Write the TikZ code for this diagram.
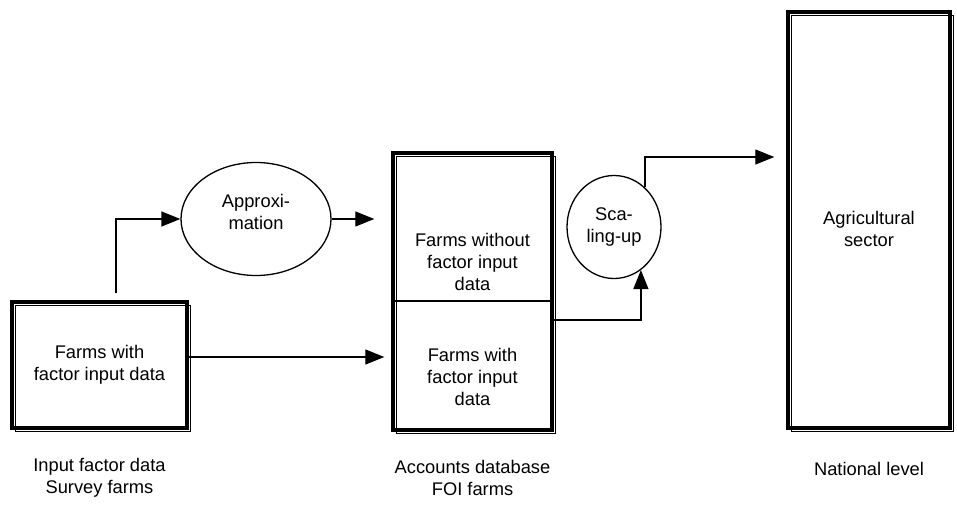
\documentclass[tikz,border=0pt]{standalone}
\usepackage{fontspec}
\setmainfont{Liberation Sans}
\usetikzlibrary{arrows.meta,shapes.geometric}
\tikzset{
  ramme/.style={draw,line width=3.4pt,inner sep=0pt,align=center,
    preaction={draw,line width=0.9pt,transform canvas={shift={(3.4pt,-3.4pt)}}}},
  boble/.style={ellipse,draw,line width=1.3pt,inner sep=0pt,align=center},
  pil/.style={line width=1.3pt,-{Triangle[length=19pt,width=15pt]}},
  tekst/.style={align=center}
}
\begin{document}
\begin{tikzpicture}[x=1pt,y=-1pt,font=\fontsize{18.3}{22}\selectfont]
  \useasboundingbox (0,0) rectangle (957,505); %hele billedet
  \node[ramme,minimum width=175pt,minimum height=126pt] (srv) at (99.5,365) {Farms with\\factor input data}; %survey boks
  \node[ramme,minimum width=159pt,minimum height=277pt] (foi) at (472.5,291.5) {}; %FOI boks
  \node[ramme,minimum width=162pt,minimum height=416pt] (nat) at (869,220) {}; %national boks
  \node[tekst] (agri) at (869,229) {Agricultural\\sector};
  \node[tekst] (foiup) at (472.5,262) {Farms without\\factor input\\data};
  \node[tekst] (foilow) at (472.5,377) {Farms with\\factor input\\data};
  \coordinate (skille) at (472.5,301);
  \draw[line width=1.5pt] (foi.west |- skille) -- (foi.east |- skille); %skillelinje
  \node[boble,minimum width=150pt,minimum height=113pt] (apx) at (256,219) {Approxi-\\mation\\[-8pt]};
  \node[boble,minimum width=94pt,minimum height=103pt] (scl) at (614,227) {Sca-\\ling-up};
  \coordinate (s3) at ([yshift=8pt]srv.east);
  \coordinate (f4) at ([yshift=-28.5pt]foi.east);
  \coordinate (n5) at ([yshift=63pt]nat.west);
  \draw[pil] ([xshift=16.5pt,yshift=7pt]srv.north) |- (apx.west); %op til approx
  \draw[pil,shorten >=17pt] (apx.east) -- (foi.west |- apx.east); %ind i FOI
  \draw[pil,shorten >=7pt] (s3) -- (s3 -| foi.west); %survey til FOI
  \draw[pil] (f4) -| (scl.-58); %FOI til scaling
  \draw[pil,shorten >=12pt] (scl.52) |- (n5); %scaling til national
  \node[tekst] (srvlbl) at (99.5,478) {Input factor data\\Survey farms};
  \node[tekst] (foilbl) at (472.5,478) {Accounts database\\FOI farms};
  \node[tekst] (natlbl) at (869,469) {National level};
\end{tikzpicture}
\end{document}
